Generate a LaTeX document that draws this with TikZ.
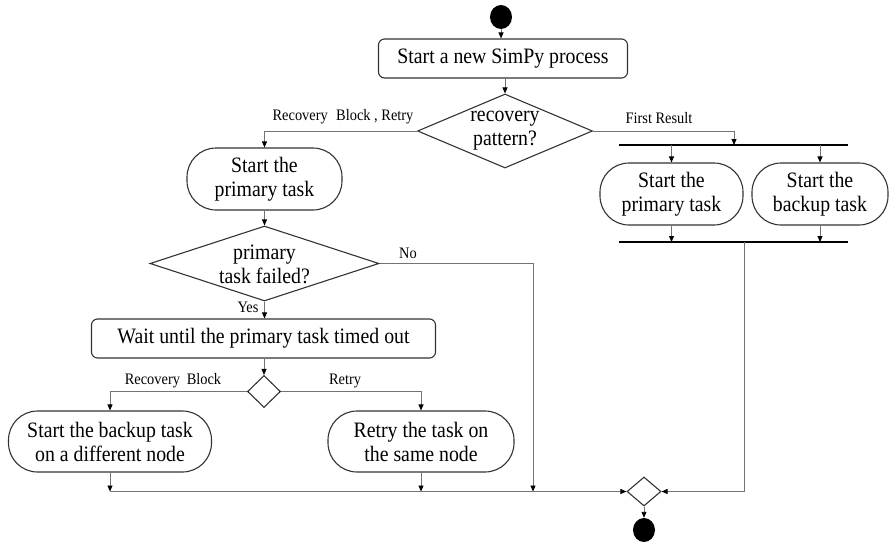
\documentclass[tikz,border=0pt]{standalone}
\usepackage{fontspec}
\setmainfont[FakeStretch=0.9]{Liberation Serif}
\usetikzlibrary{arrows.meta,shapes.geometric,calc}
\begin{document}
\begin{tikzpicture}[x=1pt,y=-1pt,
  conn/.style={draw=black!55,line width=0.9pt},
  arr/.style={conn,-{Triangle[length=6pt,width=5pt,fill=black,color=black]}},
  box/.style={draw=black!80,line width=1.1pt,rounded corners=6pt,inner sep=0pt,
    align=center,font=\fontsize{22}{24}\selectfont},
  pill/.style={box,rounded corners=29pt},
  dia/.style={diamond,draw=black!80,line width=1.1pt,inner sep=0pt},
  txt/.style={align=center,font=\fontsize{22}{24}\selectfont,inner sep=0pt},
  lbl/.style={font=\fontsize{16}{18}\selectfont,inner sep=0pt},
  dot/.style={ellipse,fill=black,minimum width=22pt,minimum height=24pt,inner sep=0pt},
  bar/.style={line width=2.2pt,black}]
\useasboundingbox (0,0) rectangle (889,543);

% initial node and process start
\node[dot] (start) at (501,17) {};
\node[box,minimum width=249pt,minimum height=39pt] (proc) at (503,58.5) {Start a new SimPy process};

% choice of recovery pattern
\node[dia,minimum width=175pt,minimum height=74pt] (dec1) at (505,131) {};
\node[txt] (dec1t) at (505,131) {recovery\\pattern?};

% recovery block / retry branch
\node[pill,minimum width=155pt,minimum height=62pt] (pt1) at (264.5,179) {Start the\\primary task};
\node[dia,minimum width=229pt,minimum height=75pt] (dec2) at (264.5,263.5) {};
\node[txt] (dec2t) at (264.5,264) {primary\\task failed?};
\node[box,minimum width=344pt,minimum height=39pt] (wait) at (263.5,338.5) {Wait until the primary task timed out};
\node[dia,minimum width=33pt,minimum height=32pt] (dec3) at (264,391.5) {};
\node[pill,minimum width=203pt,minimum height=61pt] (bk) at (110,441.5) {Start the backup task\\on a different node};
\node[pill,minimum width=186pt,minimum height=61pt] (rt) at (421,441.5) {Retry the task on\\the same node};

% first result branch: fork and join bars
\coordinate (tb1) at (619,145);
\coordinate (tb2) at (848,145);
\coordinate (tbin) at (734,145);
\coordinate (bb1) at (619,242);
\coordinate (bb2) at (848,242);
\coordinate (bbout) at (744,242);
\node[pill,minimum width=143pt,minimum height=62pt] (pr2) at (671.5,194) {Start the\\primary task};
\node[pill,minimum width=136pt,minimum height=62pt] (bk2) at (820,194) {Start the\\backup task};
\draw[bar] (tb1) -- (tb2);
\draw[bar] (bb1) -- (bb2);

% merge and final node
\node[dia,minimum width=34pt,minimum height=29pt] (merge) at (644,491.5) {};
\node[dot] (end) at (644,530) {};
\coordinate (nojoin) at (533,491.5);

% connectors
\draw[arr] (start) -- (proc.north -| start);
\draw[arr] (proc.south -| dec1.north) -- (dec1.north);
\draw[arr] (dec1.west) -| (pt1.north);
\draw[arr] (dec1.east) -| (tbin);
\draw[arr] (pr2.north |- tb1) -- (pr2.north);
\draw[arr] (bk2.north |- tb1) -- (bk2.north);
\draw[arr] (pr2.south) -- (pr2.south |- bb1);
\draw[arr] (bk2.south) -- (bk2.south |- bb1);
\draw[arr] (bbout) |- (merge.east);
\draw[arr] (pt1.south) -- (dec2.north);
\draw[arr] (dec2.east) -| (nojoin);
\draw[arr] (dec2.south) -- (wait.north -| dec2.south);
\draw[arr] (wait.south -| dec3.north) -- (dec3.north);
\draw[arr] (dec3.west) -| (bk.north);
\draw[arr] (dec3.east) -| (rt.north);
\draw[arr] (bk.south) -- (bk.south |- merge.west);
\draw[arr] (rt.south) -- (rt.south |- merge.west);
\draw[arr] (bk.south |- merge.west) -- (merge.west);
\draw[arr] (merge.south) -- (end.north);

% branch labels
\node[lbl] (l1) at (343,117) {Recovery\hspace{0.3em} Block , Retry};
\node[lbl] (l2) at (659,118) {First Result};
\node[lbl] (l3) at (408,253) {No};
\node[lbl] (l4) at (248,307) {Yes};
\node[lbl] (l5) at (173,381) {Recovery\hspace{0.2em} Block};
\node[lbl] (l6) at (345,381) {Retry};
\end{tikzpicture}
\end{document}
